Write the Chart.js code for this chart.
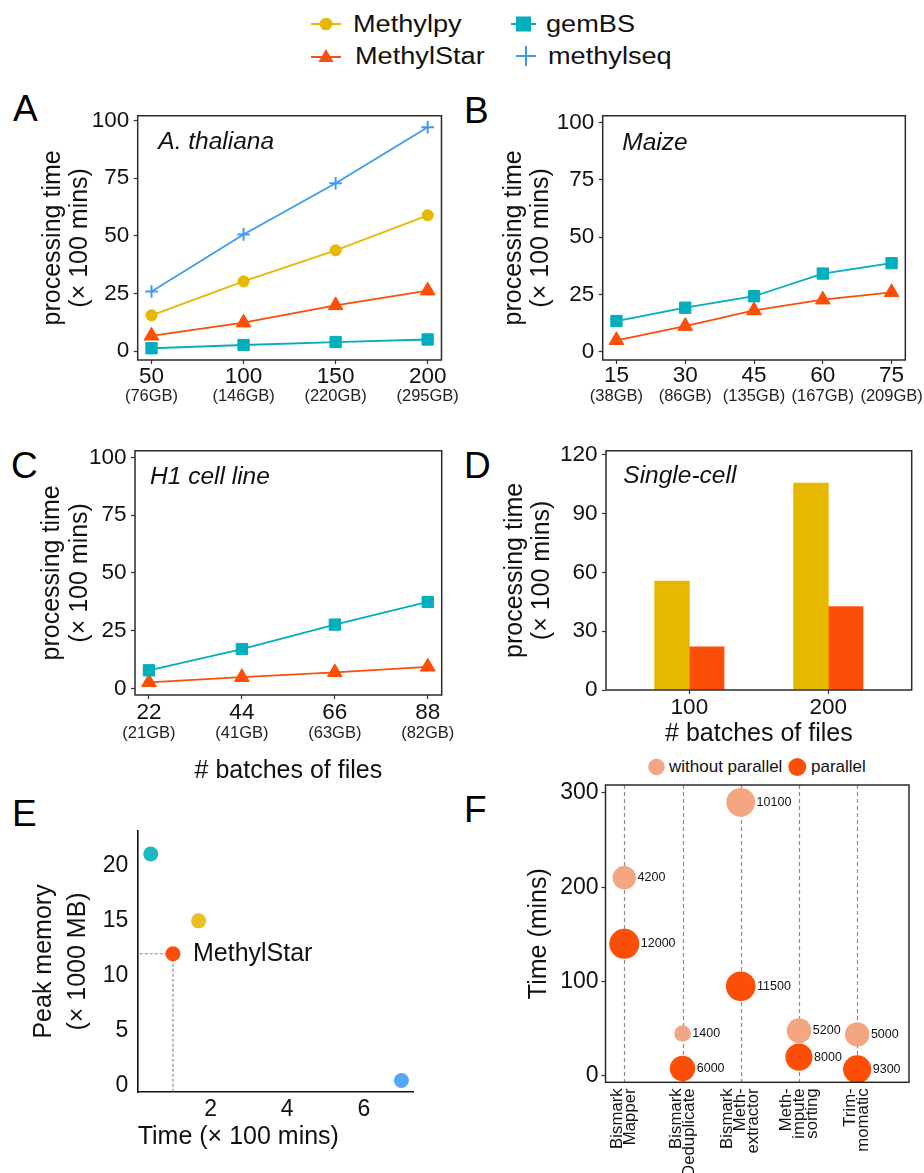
<!DOCTYPE html>
<html>
<head>
<meta charset="utf-8">
<script src="https://cdn.jsdelivr.net/npm/chart.js@4.4.1/dist/chart.umd.min.js"></script>
<style>
  html, body { margin: 0; padding: 0; background: #fff; }
  body { width: 924px; height: 1173px; position: relative; overflow: hidden;
         font-family: "Liberation Sans", Arial, Helvetica, sans-serif; color: #111; }
  .letter { position: absolute; font-size: 37px; line-height: 1; color: #000; }
  .leg { position: absolute; display: flex; align-items: center; height: 30px; font-size: 23px; white-space: nowrap; }
  .leg span { display: inline-block; transform: scaleX(1.18); transform-origin: left center; }
  .fleg { position: absolute; display: flex; align-items: center; height: 20px; font-size: 17px; white-space: nowrap; }
  canvas { position: absolute; display: block; }
</style>
</head>
<body>
<div class="letter" style="left:13px;top:90px">A</div>
<div class="letter" style="left:464px;top:92px">B</div>
<div class="letter" style="left:11px;top:447px">C</div>
<div class="letter" style="left:464px;top:447px">D</div>
<div class="letter" style="left:12px;top:795px">E</div>
<div class="letter" style="left:464px;top:791px">F</div>

<!-- shared legend -->
<div class="leg" style="left:311px;top:9px">
  <svg width="30" height="30"><line x1="0" y1="15" x2="30" y2="15" stroke="#E7B800" stroke-width="2"/><circle cx="15" cy="15" r="6.3" fill="#E7B800"/></svg>
  <span style="margin-left:12px">Methylpy</span>
</div>
<div class="leg" style="left:311px;top:41px">
  <svg width="30" height="30"><line x1="0" y1="16" x2="30" y2="16" stroke="#FC4E07" stroke-width="2"/><polygon points="7.5,21 22.5,21 15,8" fill="#FC4E07"/></svg>
  <span style="margin-left:14px">MethylStar</span>
</div>
<div class="leg" style="left:511px;top:9px">
  <svg width="25" height="30"><line x1="0" y1="15" x2="25" y2="15" stroke="#00AFBB" stroke-width="2"/><rect x="5" y="7.5" width="15" height="15" fill="#00AFBB"/></svg>
  <span style="margin-left:10px">gemBS</span>
</div>
<div class="leg" style="left:515px;top:41px">
  <svg width="22" height="30"><line x1="1" y1="15" x2="21" y2="15" stroke="#3D9BF5" stroke-width="2"/><line x1="11" y1="5" x2="11" y2="25" stroke="#3D9BF5" stroke-width="2"/></svg>
  <span style="margin-left:11px">methylseq</span>
</div>

<!-- legend of panel F -->
<div class="fleg" style="left:648px;top:757px">
  <svg width="18" height="20"><circle cx="8.5" cy="10" r="8.3" fill="#F4A582"/></svg>
  <span style="margin-left:3px">without parallel</span>
</div>
<div class="fleg" style="left:788px;top:757px">
  <svg width="19" height="20"><circle cx="9.3" cy="10" r="9" fill="#FC4E07"/></svg>
  <span style="margin-left:4px">parallel</span>
</div>

<script>
// ---------------- data ----------------
const aBatches = [50, 100, 150, 200];
const aSizes = ['(76GB)', '(146GB)', '(220GB)', '(295GB)'];
const aMethylpy = [15.5, 30.2, 43.7, 58.9];
const aMethylStar = [6.6, 12.3, 19.8, 26.2];
const aGemBS = [1.2, 2.6, 3.9, 5.0];
const aMethylseq = [25.8, 50.6, 72.8, 97.1];

const bBatches = [15, 30, 45, 60, 75];
const bSizes = ['(38GB)', '(86GB)', '(135GB)', '(167GB)', '(209GB)'];
const bGemBS = [13.4, 19.2, 24.2, 34.1, 38.6];
const bMethylStar = [5.0, 11.2, 18.0, 22.7, 25.9];

const cBatches = [22, 44, 66, 88];
const cSizes = ['(21GB)', '(41GB)', '(63GB)', '(82GB)'];
const cGemBS = [7.8, 17.0, 27.6, 37.4];
const cMethylStar = [2.6, 4.8, 6.9, 9.3];

const dBatches = ['100', '200'];
const dMethylpy = [55.5, 105.5];
const dMethylStar = [22, 42.5];

const eTools = ['Methylpy', 'MethylStar', 'gemBS', 'methylseq'];
const eTime = [1.69, 1.02, 0.44, 6.98];      // x 100 mins
const eMemory = [15.0, 12.0, 21.1, 0.45];    // x 1000 MB

const fSteps = [['Bismark', 'Mapper'], ['Bismark', 'Deduplicate'], ['Bismark', 'Meth-', 'extractor'],
                ['Meth-', 'impute', 'sorting'], ['Trim-', 'momatic']];
const fTimeSerial = [210, 45, 290, 48, 44];
const fTimeParallel = [140, 8, 95, 20, 7];
const fMemSerial = [4200, 1400, 10100, 5200, 5000];
const fMemParallel = [12000, 6000, 11500, 8000, 9300];

const procTicks = [0, 25, 50, 75, 100];
const dYTicks = [0, 30, 60, 90, 120];
const eXTicks = [2, 4, 6];
const eYTicks = [0, 5, 10, 15, 20];
const fYTicks = [0, 100, 200, 300];

// ---------------- styling ----------------
const FONT = '"Liberation Sans", Arial, Helvetica, sans-serif';
Chart.defaults.font.family = FONT;
Chart.defaults.color = '#111';

const COL = { Methylpy: '#E7B800', MethylStar: '#FC4E07', gemBS: '#00AFBB', methylseq: '#3D9BF5' };
const SHAPE = {
  Methylpy: { style: 'circle', r: 5.6, bw: 1 },
  MethylStar: { style: 'triangle', r: 8.5, bw: 1 },
  gemBS: { style: 'rect', r: 8, bw: 1 },
  methylseq: { style: 'cross', r: 6.3, bw: 2 }
};

function makeCanvas(left, top, w, h) {
  const c = document.createElement('canvas');
  c.width = w; c.height = h;
  c.style.left = left + 'px'; c.style.top = top + 'px';
  c.style.width = w + 'px'; c.style.height = h + 'px';
  document.body.appendChild(c);
  return c;
}

const setTicks = vals => s => { s.ticks = vals.map(v => ({ value: v })); };
const tickGrid = { display: true, drawOnChartArea: false, drawTicks: true, tickLength: 4, tickColor: '#333', tickWidth: 1.2 };

// box around the panel + italic label inside
const framePlugin = {
  id: 'frame',
  afterDraw(chart, args, opts) {
    const { ctx, chartArea: a } = chart;
    ctx.save();
    ctx.strokeStyle = '#2b2b2b';
    ctx.lineWidth = 1.5;
    ctx.strokeRect(a.left, a.top, a.right - a.left, a.bottom - a.top);
    if (opts.label) {
      ctx.font = 'italic 24.5px ' + FONT;
      ctx.fillStyle = '#111';
      ctx.textBaseline = 'middle';
      ctx.fillText(opts.label, a.left + opts.dx, a.top + opts.dy);
    }
    ctx.restore();
  }
};

function seriesDS(name, xs, ys) {
  const sh = SHAPE[name];
  return {
    label: name,
    data: xs.map((x, i) => ({ x: x, y: ys[i] })),
    borderColor: COL[name], backgroundColor: COL[name], borderWidth: 1.8,
    pointStyle: sh.style, pointRadius: sh.r, pointHoverRadius: sh.r,
    pointBackgroundColor: COL[name], pointBorderColor: COL[name], pointBorderWidth: sh.bw,
    tension: 0
  };
}

function yProc(c) {
  return {
    type: 'linear', position: 'left', min: c.ymin, max: c.ymax,
    afterBuildTicks: setTicks(c.yticks || procTicks),
    afterFit: s => { s.width = c.yw; },
    grid: tickGrid, border: { display: false },
    ticks: { font: { size: 22.5, lineHeight: 1 }, color: '#111', padding: 4.5 },
    title: { display: true, text: ['processing time', '(× 100 mins)'], color: '#111',
             font: { size: 25, lineHeight: 1.1 }, padding: { top: c.tpad, bottom: 0 } }
  };
}

function lineChart(c) {
  const x2 = {
    type: 'linear', axis: 'x', position: 'bottom', weight: 1, min: c.xmin, max: c.xmax,
    afterBuildTicks: setTicks(c.xs),
    afterFit: s => { s.height = c.x2h; },
    grid: { display: false, drawTicks: false }, border: { display: false },
    ticks: { font: { size: 16.5, lineHeight: 1 }, color: '#222', padding: c.x2pad, maxRotation: 0, autoSkip: false,
             callback: v => c.sizes[c.xs.indexOf(v)] }
  };
  if (c.xTitle) {
    x2.title = { display: true, text: c.xTitle, color: '#111', font: { size: 25, lineHeight: 1.2 },
                 padding: { top: 0, bottom: c.xTitlePad } };
  }
  return new Chart(c.canvas, {
    type: 'line',
    data: { datasets: c.series.map(s => seriesDS(s[0], c.xs, s[1])) },
    options: {
      responsive: false, animation: false, events: [],
      layout: { padding: c.pad },
      plugins: { legend: { display: false }, tooltip: { enabled: false },
                 frame: { label: c.label, dx: c.ldx, dy: c.ldy } },
      scales: {
        x: {
          type: 'linear', position: 'bottom', weight: 0, min: c.xmin, max: c.xmax,
          afterBuildTicks: setTicks(c.xs),
          afterFit: s => { s.height = c.xh; },
          grid: tickGrid, border: { display: false },
          ticks: { font: { size: 22.5, lineHeight: 1 }, color: '#111', padding: c.xpad, maxRotation: 0, autoSkip: false }
        },
        x2: x2,
        y: yProc(c)
      }
    },
    plugins: [framePlugin]
  });
}

// ---------------- A ----------------
lineChart({
  canvas: makeCanvas(0, 100, 460, 308),
  pad: { top: 13.3, right: 18.3, left: 0, bottom: 0 },
  xs: aBatches, sizes: aSizes, xmin: 42.5, xmax: 207.5, ymin: -3.9, ymax: 102.1,
  yw: 137.7, xh: 28, x2h: 20, xpad: 1.5, x2pad: 0.3, tpad: 39,
  label: 'A. thaliana', ldx: 20.6, ldy: 26.7,
  series: [['methylseq', aMethylseq], ['Methylpy', aMethylpy], ['MethylStar', aMethylStar], ['gemBS', aGemBS]]
});

// ---------------- B ----------------
lineChart({
  canvas: makeCanvas(460, 100, 464, 308),
  pad: { top: 13.3, right: 18, left: 0, bottom: 0 },
  xs: bBatches, sizes: bSizes, xmin: 12, xmax: 78, ymin: -3.6, ymax: 102.9,
  yw: 142.7, xh: 28, x2h: 20, xpad: 0.8, x2pad: 0.4, tpad: 40,
  label: 'Maize', ldx: 19.6, ldy: 27.4,
  series: [['gemBS', bGemBS], ['MethylStar', bMethylStar]]
});

// ---------------- C ----------------
lineChart({
  canvas: makeCanvas(0, 435, 460, 358),
  pad: { top: 13.3, right: 18.3, left: 0, bottom: 0 },
  xs: cBatches, sizes: cSizes, xmin: 18.7, xmax: 91.3, ymin: -2.9, ymax: 102.9,
  yw: 135, xh: 28, x2h: 70, xpad: 2.7, x2pad: 2.7, tpad: 38.5,
  xTitle: '# batches of files', xTitlePad: 6.7,
  label: 'H1 cell line', ldx: 15, ldy: 26.7,
  series: [['gemBS', cGemBS], ['MethylStar', cMethylStar]]
});

// ---------------- D ----------------
new Chart(makeCanvas(460, 435, 464, 315), {
  type: 'bar',
  data: {
    datasets: [
      { label: 'Methylpy', data: dBatches.map((b, i) => ({ x: i, y: dMethylpy[i] })),
        backgroundColor: COL.Methylpy, borderWidth: 0, barThickness: 34.7 },
      { label: 'MethylStar', data: dBatches.map((b, i) => ({ x: i, y: dMethylStar[i] })),
        backgroundColor: COL.MethylStar, borderWidth: 0, barThickness: 34.7 }
    ]
  },
  options: {
    responsive: false, animation: false, events: [],
    layout: { padding: { top: 14.3, right: 12.3, left: 0, bottom: 0 } },
    plugins: { legend: { display: false }, tooltip: { enabled: false },
               frame: { label: 'Single-cell', dx: 17.3, dy: 25.7 } },
    scales: {
      x: {
        type: 'linear', min: -0.6, max: 1.6, offset: false,
        afterBuildTicks: setTicks(dBatches.map((b, i) => i)),
        afterFit: s => { s.height = 60; },
        grid: Object.assign({}, tickGrid, { offset: false }), border: { display: false },
        ticks: { font: { size: 22.5, lineHeight: 1 }, color: '#111', padding: 2.7, maxRotation: 0, autoSkip: false,
                 callback: v => dBatches[v] },
        title: { display: true, text: '# batches of files', color: '#111', font: { size: 25, lineHeight: 1.2 },
                 padding: { top: 0, bottom: 0.7 } }
      },
      y: yProc({ ymin: 0, ymax: 122, yticks: dYTicks, yw: 146, tpad: 41 })
    }
  },
  plugins: [framePlugin]
});

// ---------------- E ----------------
const eGuide = {
  id: 'eGuide',
  beforeDatasetsDraw(chart) {
    const { ctx, chartArea: a, scales: { x, y } } = chart;
    const i = eTools.indexOf('MethylStar');
    const px = x.getPixelForValue(eTime[i]), py = y.getPixelForValue(eMemory[i]);
    ctx.save();
    ctx.strokeStyle = '#8c8c8c'; ctx.lineWidth = 1.2; ctx.setLineDash([3, 2]);
    ctx.beginPath();
    ctx.moveTo(a.left + 2, py); ctx.lineTo(px, py);
    ctx.moveTo(px, py); ctx.lineTo(px, a.bottom);
    ctx.stroke();
    ctx.restore();
  },
  afterDatasetsDraw(chart) {
    const { ctx, scales: { x, y } } = chart;
    const i = eTools.indexOf('MethylStar');
    ctx.save();
    ctx.font = '25px ' + FONT; ctx.fillStyle = '#111'; ctx.textBaseline = 'middle';
    ctx.fillText('MethylStar', x.getPixelForValue(eTime[i]) + 20, y.getPixelForValue(eMemory[i]));
    ctx.restore();
  }
};
const eFill = { Methylpy: '#E9BE22', MethylStar: '#FC4E07', gemBS: '#1DB7C2', methylseq: '#55A6F7' };
new Chart(makeCanvas(0, 810, 460, 342), {
  type: 'scatter',
  data: {
    datasets: eTools.map((t, i) => ({
      label: t, data: [{ x: eTime[i], y: eMemory[i] }],
      pointRadius: 7.5, pointHoverRadius: 7.5, pointBackgroundColor: eFill[t], pointBorderWidth: 0
    }))
  },
  options: {
    responsive: false, animation: false, events: [],
    layout: { padding: { top: 16, right: 46.7, left: 0, bottom: 0 } },
    plugins: { legend: { display: false }, tooltip: { enabled: false } },
    scales: {
      x: {
        type: 'linear', min: 0.1, max: 7.29,
        afterBuildTicks: setTicks(eXTicks),
        afterFit: s => { s.height = 60; },
        grid: { display: false, drawTicks: false }, border: { display: true, color: '#111', width: 1.6 },
        ticks: { font: { size: 23, lineHeight: 1 }, color: '#111', padding: 6.3, maxRotation: 0 },
        title: { display: true, align: 'start', text: 'Time (× 100 mins)', color: '#111',
                 font: { size: 25, lineHeight: 1.2 }, padding: { top: 0, bottom: 0 } }
      },
      y: {
        type: 'linear', min: -0.6, max: 23.2,
        afterBuildTicks: setTicks(eYTicks),
        afterFit: s => { s.width = 137.7; },
        grid: { display: false, drawTicks: false }, border: { display: true, color: '#111', width: 1.6 },
        ticks: { font: { size: 23, lineHeight: 1 }, color: '#111', padding: 9.4 },
        title: { display: true, text: ['Peak memory', '(× 1000 MB)'], color: '#111',
                 font: { size: 25, lineHeight: 1.36 }, padding: { top: 27.6, bottom: 0 } }
      }
    }
  },
  plugins: [eGuide]
});

// ---------------- F ----------------
const allMem = fMemSerial.concat(fMemParallel);
const memMin = Math.min(...allMem), memMax = Math.max(...allMem);
// size scale: area-like mapping of memory to bubble radius
const memRadius = m => 8.3 + 6.7 * Math.sqrt((m - memMin) / (memMax - memMin));

const fDecor = {
  id: 'fDecor',
  beforeDatasetsDraw(chart) {
    const { ctx, chartArea: a, scales: { x } } = chart;
    ctx.save();
    ctx.strokeStyle = '#8c8c8c'; ctx.lineWidth = 1.2; ctx.setLineDash([4, 3]);
    fSteps.forEach((s, i) => {
      const px = Math.round(x.getPixelForValue(i + 1)) + 0.5;
      ctx.beginPath(); ctx.moveTo(px, a.top); ctx.lineTo(px, a.bottom); ctx.stroke();
    });
    ctx.restore();
  },
  afterDatasetsDraw(chart) {
    const { ctx } = chart;
    ctx.save();
    ctx.font = '12.5px ' + FONT; ctx.fillStyle = '#111'; ctx.textBaseline = 'middle'; ctx.textAlign = 'left';
    chart.data.datasets.forEach((ds, di) => {
      chart.getDatasetMeta(di).data.forEach((el, j) => {
        ctx.fillText(String(ds.mem[j]), el.x + el.options.radius + 1.5, el.y);
      });
    });
    ctx.restore();
  },
  afterDraw(chart) {
    const { ctx, chartArea: a, scales: { x } } = chart;
    ctx.save();
    ctx.font = '16.8px ' + FONT; ctx.fillStyle = '#111'; ctx.textBaseline = 'middle'; ctx.textAlign = 'right';
    fSteps.forEach((lines, i) => {
      const px = x.getPixelForValue(i + 1);
      lines.forEach((t, k) => {
        ctx.save();
        ctx.translate(px + (k - (lines.length - 1) / 2) * 13, a.bottom + 6);
        ctx.rotate(-Math.PI / 2);
        ctx.fillText(t, 0, 0);
        ctx.restore();
      });
    });
    ctx.restore();
  }
};

new Chart(makeCanvas(460, 770, 464, 403), {
  type: 'bubble',
  data: {
    datasets: [
      { label: 'without parallel', mem: fMemSerial,
        data: fSteps.map((s, i) => ({ x: i + 1, y: fTimeSerial[i], r: memRadius(fMemSerial[i]) })),
        backgroundColor: '#F4A582', borderWidth: 0 },
      { label: 'parallel', mem: fMemParallel,
        data: fSteps.map((s, i) => ({ x: i + 1, y: fTimeParallel[i], r: memRadius(fMemParallel[i]) })),
        backgroundColor: '#FC4E07', borderWidth: 0 }
    ]
  },
  options: {
    responsive: false, animation: false, events: [],
    layout: { padding: { top: 15, right: 12.3, left: 0, bottom: 0 } },
    plugins: { legend: { display: false }, tooltip: { enabled: false }, frame: {} },
    scales: {
      x: {
        type: 'linear', min: 0.677, max: 5.89,
        afterBuildTicks: setTicks(fSteps.map((s, i) => i + 1)),
        afterFit: s => { s.height = 90.7; },
        grid: { display: false, drawTicks: false }, border: { display: false },
        ticks: { display: false }
      },
      y: {
        type: 'linear', min: -6.7, max: 308.3,
        afterBuildTicks: setTicks(fYTicks),
        afterFit: s => { s.width = 145.5; },
        grid: tickGrid, border: { display: false },
        ticks: { font: { size: 23, lineHeight: 1 }, color: '#111', padding: 3 },
        title: { display: true, text: 'Time (mins)', color: '#111', font: { size: 25, lineHeight: 1.2 },
                 padding: { top: 64.6, bottom: 0 } }
      }
    }
  },
  plugins: [framePlugin, fDecor]
});
</script>
</body>
</html>
